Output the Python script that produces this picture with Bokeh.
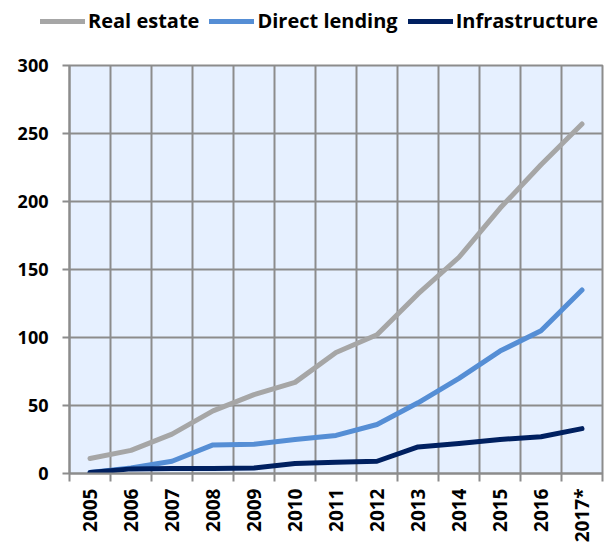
from bokeh.plotting import figure
from bokeh.models import FixedTicker, Legend, LegendItem, Range1d
from bokeh.embed import file_html
from bokeh.resources import INLINE

years = ["2005", "2006", "2007", "2008", "2009", "2010", "2011", "2012",
         "2013", "2014", "2015", "2016", "2017*"]
real_estate = [11, 17, 29, 46, 58, 67, 89, 102, 132, 159, 195, 227, 257]
direct_lending = [0.7, 4, 9, 21, 21.5, 25, 28, 36, 52, 70, 90, 105, 135]
infrastructure = [0.7, 3.4, 3.6, 3.6, 4, 7.3, 8.3, 9, 19.5, 22, 25, 27, 33]
y_ticks = [0, 50, 100, 150, 200, 250, 300]

xs = list(range(len(years)))
centers = xs
bounds = [i - 0.5 for i in range(len(years) + 1)]

FONT = "Open Sans"
GRID = "#8C8C8C"

series = [("Real estate", real_estate, "#A6A6A6"),
          ("Direct lending", direct_lending, "#558ED5"),
          ("Infrastructure", infrastructure, "#002060")]

# ---- main chart ----
p = figure(width=605, height=505, output_backend="svg", toolbar_location=None,
           x_range=Range1d(-0.5, len(years) - 0.5), y_range=Range1d(0, 300),
           min_border_left=69, min_border_right=3, min_border_top=25,
           min_border_bottom=70)
p.background_fill_color = "#E6F0FF"
p.border_fill_color = "white"
p.outline_line_color = GRID
p.outline_line_width = 2

p.xaxis.ticker = FixedTicker(ticks=centers, minor_ticks=bounds)
p.xaxis.major_label_overrides = {i: y for i, y in enumerate(years)}
p.xaxis.major_label_orientation = 3.14159265 / 2
p.xaxis.major_tick_line_color = None
p.xaxis.minor_tick_line_color = GRID
p.xaxis.minor_tick_line_width = 2
p.xaxis.minor_tick_out = 8
p.xaxis.minor_tick_in = 0
p.xaxis.axis_line_color = GRID
p.xaxis.axis_line_width = 2
p.xaxis.major_label_standoff = 7
p.xaxis.major_label_text_font = FONT
p.xaxis.major_label_text_font_style = "bold"
p.xaxis.major_label_text_font_size = "19px"
p.xaxis.major_label_text_color = "black"

p.yaxis.ticker = FixedTicker(ticks=y_ticks)
p.yaxis.minor_tick_line_color = None
p.yaxis.major_tick_line_color = GRID
p.yaxis.major_tick_line_width = 2
p.yaxis.major_tick_out = 7
p.yaxis.major_tick_in = 0
p.yaxis.axis_line_color = GRID
p.yaxis.axis_line_width = 2
p.yaxis.major_label_standoff = 14
p.yaxis.major_label_text_font = FONT
p.yaxis.major_label_text_font_style = "bold"
p.yaxis.major_label_text_font_size = "18px"
p.yaxis.major_label_text_color = "black"

p.xgrid.ticker = FixedTicker(ticks=bounds)
p.xgrid.grid_line_color = GRID
p.xgrid.grid_line_width = 2
p.ygrid.grid_line_color = GRID
p.ygrid.grid_line_width = 2

for name, vals, col in series:
    p.line(xs, vals, line_color=col, line_width=5,
           line_cap="round", line_join="round")

# ---- legend strip above the chart (separate root, no frame alignment) ----
lf = figure(width=605, height=40, output_backend="svg", toolbar_location=None,
            x_axis_type=None, y_axis_type=None,
            x_range=Range1d(100, 101), y_range=Range1d(0, 1),
            min_border_left=0, min_border_right=0, min_border_top=0,
            min_border_bottom=0)
lf.outline_line_color = None
lf.grid.visible = False
items = []
for name, vals, col in series:
    r = lf.line(xs, vals, line_color=col, line_width=5, line_cap="round")
    items.append(LegendItem(label=name, renderers=[r]))

legend = Legend(items=items, orientation="horizontal", location=(40, 6),
                glyph_width=45, glyph_height=20, label_standoff=3, spacing=10,
                padding=0, margin=0, border_line_color=None,
                background_fill_alpha=0,
                label_text_font=FONT, label_text_font_style="bold",
                label_text_font_size="20px", label_text_color="black")
lf.add_layout(legend, "center")

open("out.html", "w").write(file_html([lf, p], INLINE))
